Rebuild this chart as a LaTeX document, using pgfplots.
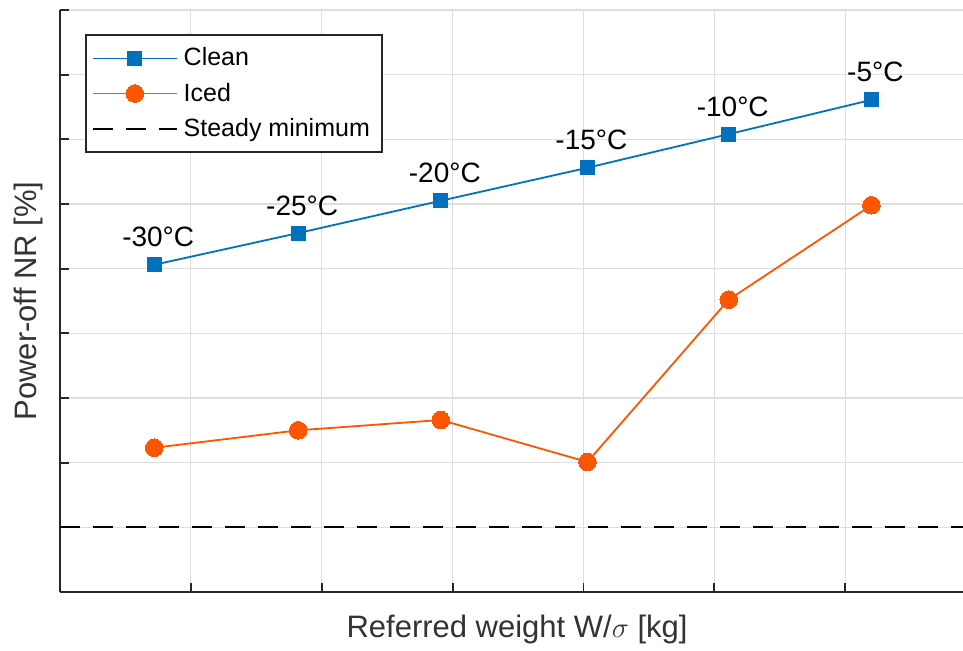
\documentclass[border=0pt]{standalone}
\usepackage{fontspec}
\setmainfont{Liberation Sans}
\usepackage{pgfplots}
\pgfplotsset{compat=1.18}
\definecolor{cleanc}{rgb}{0,0.447,0.741}
\definecolor{icedc}{RGB}{255,85,0}
\definecolor{axc}{gray}{0.15}
\definecolor{gridc}{gray}{0.87}
\begin{document}
\begin{tikzpicture}
\begin{axis}[
  scale only axis,
  width=451.5pt, height=291pt,
  xmin=0, xmax=6.9, ymin=0, ymax=9,
  axis lines=left,
  axis line style={-, color=axc, line width=0.9pt},
  xtick={1,2,3,4,5,6}, ytick={0,1,...,9},
  xticklabels={}, yticklabels={},
  tick align=inside,
  major tick length=4.5pt,
  tick style={color=axc, line width=0.9pt},
  grid=major,
  major grid style={color=gridc, line width=0.6pt},
  xlabel={Referred weight W/$\sigma$ [kg]},
  ylabel={Power-off NR [\%]},
  xlabel style={at={(axis description cs:0.5061,0)}, anchor=center, yshift=-19pt, font=\fontsize{15.5}{18}\selectfont, color=black!80},
  ylabel style={at={(axis description cs:-0.0354,0.5)}, anchor=center, font=\fontsize{15.5}{18}\selectfont, color=black!80},
  legend cell align=left,
  legend style={at={(axis description cs:0.0277,0.9588)}, anchor=north west,
    draw=axc, line width=0.9pt, font=\fontsize{12.5}{15}\selectfont,
    inner xsep=3pt, inner ysep=4.5pt, row sep=3pt,
    nodes={inner xsep=3pt}},
  legend image code/.code={%
    \draw[mark repeat=2,mark phase=2] plot coordinates {(0pt,0pt) (21pt,0pt) (42pt,0pt)};},
  clip=false,
]
\coordinate (sw) at (rel axis cs:0,0);
\coordinate (ne) at (rel axis cs:1,1);
\addplot[color=cleanc, line width=0.9pt, mark=square*, mark size=3.5pt,
  mark options={solid, fill=cleanc, draw=cleanc, line width=0pt},
  nodes near coords, point meta=explicit symbolic,
  every node near coord/.style={anchor=base, inner sep=0pt, yshift=9pt, xshift=2pt, color=black, font=\fontsize{14}{16}\selectfont}]
  coordinates {
  (0.72,5.06) [-30°C]
  (1.82,5.55) [-25°C]
  (2.91,6.05) [-20°C]
  (4.03,6.56) [-15°C]
  (5.11,7.08) [-10°C]
  (6.20,7.61) [-5°C]
};
\addlegendentry{Clean}
\addplot[color=icedc, line width=0.9pt, mark=*, mark size=4.4pt,
  mark options={solid, fill=icedc, draw=icedc, line width=0pt}]
  coordinates {
  (0.72,2.23)
  (1.82,2.50)
  (2.91,2.66)
  (4.03,2.01)
  (5.11,4.52)
  (6.20,5.98)
};
\addlegendentry{Iced}
\addplot[color=black, line width=0.9pt, dash pattern=on 10pt off 6.5pt]
  coordinates {(0,1) (6.9,1)};
\addlegendentry{Steady minimum}
\end{axis}
\pgfresetboundingbox
\path ([shift={(-30pt,-29.5pt)}]sw) rectangle ([shift={(0pt,5pt)}]ne);
\end{tikzpicture}
\end{document}
